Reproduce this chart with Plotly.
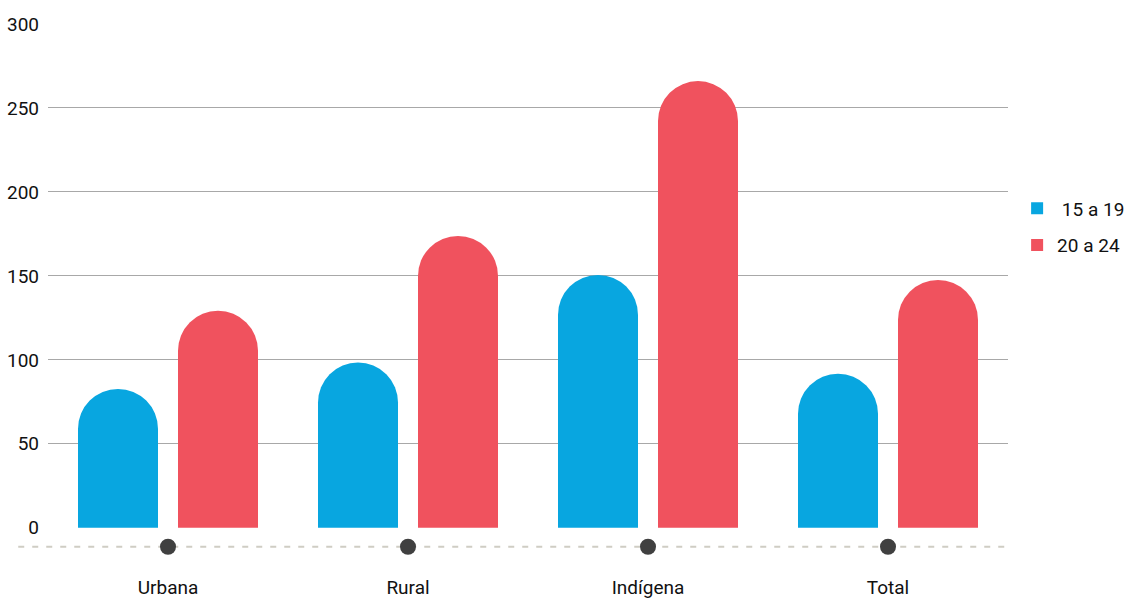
import plotly.graph_objects as go

categories = ["Urbana", "Rural", "Indígena", "Total"]
series_names = ["\u00a015 a 19", "20 a 24"]
values_15_19 = [82.7, 98.4, 150.6, 91.7]
values_20_24 = [129.2, 173.8, 266.0, 147.6]
y_ticks = [0, 50, 100, 150, 200, 250, 300]

BLUE = "#08A6E0"
RED = "#F0525E"
FONT = "Roboto, Lato, sans-serif"

fig = go.Figure()
fig.add_trace(go.Bar(x=categories, y=values_15_19, name=series_names[0], showlegend=False,
                     marker=dict(color=BLUE, line=dict(width=0))))
fig.add_trace(go.Bar(x=categories, y=values_20_24, name=series_names[1], showlegend=False,
                     marker=dict(color=RED, line=dict(width=0))))

# legend-only entries with square symbols
for nm, col, grp in [(series_names[0], BLUE, "a"), (series_names[1], RED, "b")]:
    fig.add_trace(go.Scatter(x=[None], y=[None], mode="markers", name=nm, legendgroup=grp,
                             marker=dict(color=col, size=12, symbol="square")))

# baseline dots under each category
base_y = -11.3
fig.add_trace(go.Scatter(x=categories, y=[base_y] * len(categories), mode="markers",
                         marker=dict(color="#404040", size=16), showlegend=False,
                         hoverinfo="skip", cliponaxis=False))

fig.add_shape(type="line", xref="paper", yref="y", x0=-0.031, x1=1.003,
              y0=base_y, y1=base_y, layer="below",
              line=dict(color="#CFCDC4", width=2, dash="6px,8px"))

fig.update_layout(
    width=1127, height=600,
    margin=dict(l=48, r=119, t=24, b=42, autoexpand=False),
    paper_bgcolor="white", plot_bgcolor="white",
    barmode="group", bargap=0.1667, bargroupgap=0.2,
    barcornerradius="50%",
    font=dict(family=FONT, size=19, color="#111111"),
    legend=dict(x=1.0095, y=0.62, xanchor="left", yanchor="middle",
                font=dict(family=FONT, size=19, color="#111111"),
                traceorder="grouped", tracegroupgap=9),
    showlegend=True,
)
fig.update_xaxes(showgrid=False, showline=False, ticks="", ticklabelstandoff=16,
                 tickfont=dict(family=FONT, size=19))
fig.update_yaxes(range=[-18, 300], tickvals=y_ticks, ticktext=[str(v) for v in y_ticks],
                 showgrid=True, gridcolor="#A8A8A8", gridwidth=1,
                 zeroline=True, zerolinecolor="rgba(0,0,0,0)", showline=False,
                 ticks="", ticklabelstandoff=8,
                 tickfont=dict(family=FONT, size=19))

fig.write_html("out.html")
